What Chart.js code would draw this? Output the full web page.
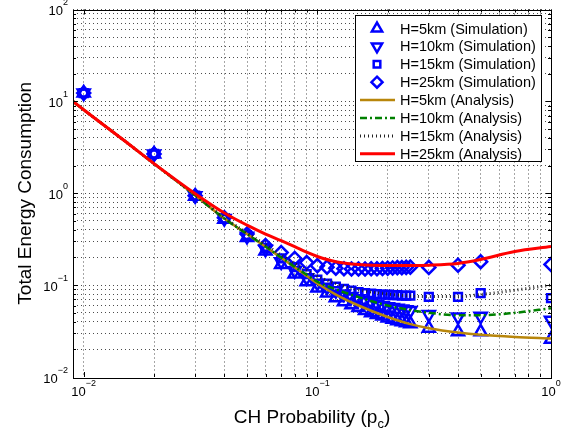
<!DOCTYPE html>
<html>
<head>
<meta charset="utf-8">
<script src="https://cdn.jsdelivr.net/npm/chart.js"></script>
<style>
  html, body { margin: 0; padding: 0; background: #fff; }
  #wrap { width: 572px; height: 436px; }
</style>
</head>
<body>
<div id="wrap"><canvas id="energy" width="572" height="436"></canvas></div>
<script>
// CH probabilities used in the simulation runs
const simP = [0.01, 0.02, 0.03, 0.04, 0.05, 0.06, 0.07, 0.08, 0.09, 0.10,
  0.11, 0.12, 0.13, 0.14, 0.15, 0.16, 0.17, 0.18, 0.19, 0.20,
  0.21, 0.22, 0.23, 0.24, 0.25, 0.3, 0.4, 0.5, 1.0];

// simulated total energy for each altitude
const sim5 = [12.3, 2.68, 0.93, 0.52, 0.33, 0.235, 0.168, 0.132, 0.109, 0.093,
  0.082, 0.073, 0.066, 0.061, 0.057, 0.053, 0.050, 0.048, 0.046, 0.044,
  0.0425, 0.041, 0.040, 0.039, 0.038, 0.034, 0.031, 0.031, 0.0258];
const sim10 = [12.3, 2.68, 0.94, 0.53, 0.34, 0.245, 0.18, 0.143, 0.12, 0.105,
  0.095, 0.087, 0.080, 0.075, 0.071, 0.068, 0.065, 0.062, 0.060, 0.058,
  0.057, 0.056, 0.055, 0.054, 0.053, 0.0478, 0.045, 0.0458, 0.0415];
const sim15 = [12.3, 2.68, 0.94, 0.53, 0.35, 0.255, 0.195, 0.157, 0.132, 0.115,
  0.104, 0.096, 0.091, 0.087, 0.084, 0.082, 0.081, 0.080, 0.079, 0.079,
  0.078, 0.078, 0.077, 0.077, 0.077, 0.0745, 0.0745, 0.082, 0.072];
const sim25 = [12.3, 2.68, 0.94, 0.54, 0.36, 0.27, 0.226, 0.195, 0.176, 0.163,
  0.157, 0.153, 0.151, 0.150, 0.150, 0.150, 0.151, 0.151, 0.152, 0.153,
  0.154, 0.155, 0.155, 0.156, 0.157, 0.156, 0.165, 0.18, 0.168];

// analytical curves
const curveP = [0.009, 0.01, 0.015, 0.02, 0.03, 0.04, 0.05, 0.06, 0.07, 0.08,
  0.09, 0.1, 0.12, 0.15, 0.2, 0.25, 0.3, 0.4, 0.5, 0.7, 1.0];
const ana5 = [10.0, 8.1, 3.7, 2.1, 0.95, 0.53, 0.36, 0.262, 0.199, 0.156,
  0.126, 0.104, 0.079, 0.060, 0.045, 0.0376, 0.034, 0.0305, 0.0288, 0.0273, 0.0263];
const ana10 = [10.0, 8.1, 3.7, 2.1, 0.95, 0.53, 0.36, 0.263, 0.2, 0.158,
  0.13, 0.109, 0.090, 0.074, 0.060, 0.0535, 0.050, 0.047, 0.047, 0.050, 0.056];
const ana15 = [10.0, 8.1, 3.7, 2.1, 0.95, 0.54, 0.37, 0.275, 0.213, 0.172,
  0.145, 0.125, 0.104, 0.089, 0.080, 0.076, 0.075, 0.075, 0.079, 0.088, 0.100];
const ana25 = [10.0, 8.1, 3.7, 2.1, 0.99, 0.61, 0.45, 0.36, 0.305, 0.262,
  0.228, 0.205, 0.18, 0.168, 0.164, 0.164, 0.165, 0.172, 0.19, 0.232, 0.263];

const FONT = "'Liberation Sans', Arial, Helvetica, sans-serif";
const BLUE = '#0000ff';

const pts = (xs, ys) => xs.map((x, i) => ({ x: x, y: ys[i] }));

function simSet(label, ys, style, radius, rotation) {
  return {
    label: label,
    data: pts(simP, ys),
    showLine: false,
    pointStyle: style,
    pointRadius: radius,
    pointRotation: rotation || 0,
    pointBorderWidth: 2.5,
    pointBorderColor: BLUE,
    pointBackgroundColor: 'rgba(0,0,0,0)',
    borderColor: BLUE,
    order: 5
  };
}

function curveSet(label, ys, color, width, dash, order) {
  return {
    label: label,
    data: pts(curveP, ys),
    borderColor: color,
    borderWidth: width,
    borderDash: dash,
    pointRadius: 0,
    fill: false,
    cubicInterpolationMode: 'monotone',
    order: order
  };
}

// grid lines at 1..9 x 10^n
function decadeTicks(scale) {
  const ticks = [];
  const lo = Math.floor(Math.log10(scale.min));
  const hi = Math.ceil(Math.log10(scale.max));
  for (let e = lo; e <= hi; e++) {
    for (let k = 1; k <= 9; k++) {
      const v = Number((k * Math.pow(10, e)).toPrecision(3));
      if (v >= scale.min * 1.0001 && v <= scale.max * 1.0001) ticks.push({ value: v });
    }
  }
  scale.ticks = ticks;
}

const isDecade = v => Math.abs(Math.log10(v) - Math.round(Math.log10(v))) < 1e-6;

function drawPower(ctx, exp, x, y, align) {
  const base = '10';
  const sup = exp < 0 ? '\u2212' + (-exp) : String(exp);
  ctx.font = '13px ' + FONT;
  const wb = ctx.measureText(base).width;
  ctx.font = '9px ' + FONT;
  const ws = ctx.measureText(sup).width;
  const left = align === 'center' ? x - (wb + ws) / 2 : x - wb - ws;
  ctx.font = '13px ' + FONT;
  ctx.fillText(base, left, y);
  ctx.font = '9px ' + FONT;
  ctx.fillText(sup, left + wb, y - 10);
}

function legendMarker(ctx, ds, x, y) {
  const r = ds.pointRadius * 0.85;
  ctx.save();
  ctx.translate(x, y);
  ctx.rotate((ds.pointRotation || 0) * Math.PI / 180);
  ctx.beginPath();
  if (ds.pointStyle === 'triangle') {
    for (let i = 0; i < 3; i++) {
      const a = i * 2 * Math.PI / 3;
      ctx[i ? 'lineTo' : 'moveTo'](Math.sin(a) * r, -Math.cos(a) * r);
    }
    ctx.closePath();
  } else if (ds.pointStyle === 'rect') {
    const s = r * Math.SQRT1_2;
    ctx.rect(-s, -s, 2 * s, 2 * s);
  } else {
    ctx.moveTo(0, -r); ctx.lineTo(r, 0); ctx.lineTo(0, r); ctx.lineTo(-r, 0);
    ctx.closePath();
  }
  ctx.lineWidth = 2.5;
  ctx.strokeStyle = BLUE;
  ctx.stroke();
  ctx.restore();
}

const matlabAxes = {
  id: 'matlabAxes',
  afterDraw(chart) {
    const ctx = chart.ctx;
    const a = chart.chartArea;
    const xs = chart.scales.x, ys = chart.scales.y;
    ctx.save();

    // box and inward ticks
    ctx.strokeStyle = '#000';
    ctx.lineWidth = 1;
    ctx.setLineDash([]);
    ctx.strokeRect(Math.round(a.left) + 0.5, Math.round(a.top) + 0.5,
      Math.round(a.right - a.left), Math.round(a.bottom - a.top));
    ctx.beginPath();
    xs.ticks.forEach(t => {
      const px = Math.round(xs.getPixelForValue(t.value)) + 0.5;
      const len = isDecade(t.value) ? 5 : 3;
      ctx.moveTo(px, a.bottom); ctx.lineTo(px, a.bottom - len);
      ctx.moveTo(px, a.top); ctx.lineTo(px, a.top + len);
    });
    ys.ticks.forEach(t => {
      const py = Math.round(ys.getPixelForValue(t.value)) + 0.5;
      const len = isDecade(t.value) ? 5 : 3;
      ctx.moveTo(a.left, py); ctx.lineTo(a.left + len, py);
      ctx.moveTo(a.right, py); ctx.lineTo(a.right - len, py);
    });
    ctx.stroke();

    // decade labels
    ctx.fillStyle = '#000';
    ctx.textAlign = 'left';
    ctx.textBaseline = 'alphabetic';
    [0.01, 0.1, 1].forEach(v => {
      drawPower(ctx, Math.round(Math.log10(v)), xs.getPixelForValue(v), a.bottom + 19, 'center');
    });
    [0.01, 0.1, 1, 10, 100].forEach(v => {
      drawPower(ctx, Math.round(Math.log10(v)), a.left - 5, ys.getPixelForValue(v) + 5.5, 'right');
    });

    // axis titles
    ctx.font = '19px ' + FONT;
    const head = 'CH Probability (p';
    const wHead = ctx.measureText(head).width;
    const wClose = ctx.measureText(')').width;
    ctx.font = '13px ' + FONT;
    const wSub = ctx.measureText('c').width;
    let tx = 312 - (wHead + wSub + wClose) / 2;
    ctx.font = '19px ' + FONT;
    ctx.fillText(head, tx, 423);
    ctx.font = '13px ' + FONT;
    ctx.fillText('c', tx + wHead, 428);
    ctx.font = '19px ' + FONT;
    ctx.fillText(')', tx + wHead + wSub, 423);

    ctx.save();
    ctx.translate(31, (a.top + a.bottom) / 2);
    ctx.rotate(-Math.PI / 2);
    ctx.textAlign = 'center';
    ctx.fillText('Total Energy Consumption', 0, 0);
    ctx.restore();

    // legend
    const box = { l: 355, t: 15, r: 541, b: 161 };
    ctx.fillStyle = '#fff';
    ctx.fillRect(box.l, box.t, box.r - box.l, box.b - box.t);
    ctx.strokeStyle = '#000';
    ctx.lineWidth = 1;
    ctx.strokeRect(box.l + 0.5, box.t + 0.5, box.r - box.l, box.b - box.t);
    ctx.font = '14.5px ' + FONT;
    ctx.textBaseline = 'middle';
    chart.data.datasets.forEach((ds, i) => {
      const y = 28.5 + i * 17.9;
      if (ds.showLine === false) {
        legendMarker(ctx, ds, 377, y);
      } else {
        ctx.save();
        ctx.strokeStyle = ds.borderColor;
        ctx.lineWidth = ds.borderWidth;
        ctx.setLineDash(ds.borderDash || []);
        ctx.beginPath();
        ctx.moveTo(360, y);
        ctx.lineTo(395, y);
        ctx.stroke();
        ctx.restore();
      }
      ctx.fillStyle = '#000';
      ctx.fillText(ds.label, 400, y + 1);
    });

    ctx.restore();
  }
};

const gridStyle = { color: 'rgba(0,0,0,0.7)', lineWidth: 1, drawTicks: false };

new Chart(document.getElementById('energy'), {
  type: 'line',
  data: {
    datasets: [
      simSet('H=5km (Simulation)', sim5, 'triangle', 7),
      simSet('H=10km (Simulation)', sim10, 'triangle', 7, 180),
      simSet('H=15km (Simulation)', sim15, 'rect', 5.5),
      simSet('H=25km (Simulation)', sim25, 'rectRot', 6.5),
      curveSet('H=5km (Analysis)', ana5, '#b8860b', 2.5, [], 4),
      curveSet('H=10km (Analysis)', ana10, '#008000', 2.5, [7, 3, 2, 3], 3),
      curveSet('H=15km (Analysis)', ana15, '#222222', 3, [1, 3], 2),
      curveSet('H=25km (Analysis)', ana25, '#ff0000', 3, [], 1)
    ]
  },
  options: {
    responsive: false,
    animation: false,
    events: [],
    layout: { padding: { left: 73, right: 21, top: 8, bottom: 59 } },
    plugins: {
      legend: { display: false },
      tooltip: { enabled: false }
    },
    scales: {
      x: {
        type: 'logarithmic',
        min: 0.009,
        max: 1,
        ticks: { display: false },
        grid: gridStyle,
        border: { display: false, dash: [1, 3] },
        afterBuildTicks: decadeTicks
      },
      y: {
        type: 'logarithmic',
        min: 0.01,
        max: 100,
        ticks: { display: false },
        grid: gridStyle,
        border: { display: false, dash: [1, 3] },
        afterBuildTicks: decadeTicks
      }
    }
  },
  plugins: [matlabAxes]
});
</script>
</body>
</html>
